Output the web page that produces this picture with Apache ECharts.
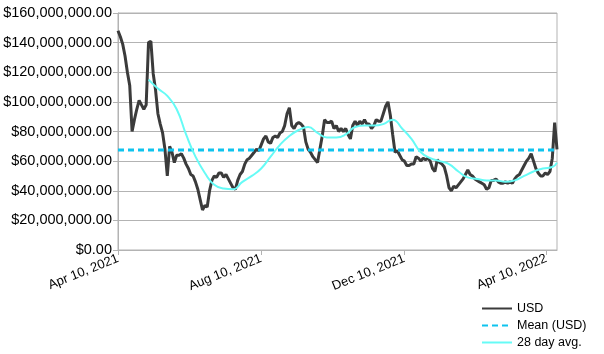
<!DOCTYPE html>
<html>
<head>
<meta charset="utf-8">
<script src="https://cdn.jsdelivr.net/npm/echarts@6/dist/echarts.min.js"></script>
<style>
  html, body { margin: 0; padding: 0; background: #fff; }
  #chart { width: 604px; height: 354px; }
</style>
</head>
<body>
<div id="chart"></div>
<script>
// day 0 = Apr 10, 2021; one USD value every 2 days
const startDate = Date.UTC(2021, 3, 10);
const usdStep = 2;
const usdValues = [
  148, 144, 139, 131, 120, 111, 80, 88, 95, 101,
  98, 95, 98, 140, 141, 119, 108, 92, 85, 79,
  68, 50, 70, 66, 59, 64, 64, 65, 62, 58,
  55, 51, 50, 46, 41, 34, 27, 30, 29, 40,
  47, 50, 49, 52, 52, 49, 51, 48, 45, 42,
  41, 47, 51, 53, 58, 61, 62, 64, 66, 68,
  67, 71, 75, 77, 73, 72, 76, 77, 76, 79,
  80, 84, 92, 96, 84, 82, 85, 86, 85, 83,
  73, 68, 66, 63, 61, 59, 68, 77, 88, 86,
  86, 87, 82, 84, 80, 82, 80, 82, 78, 75,
  84, 87, 84, 87, 85, 88, 85, 85, 82, 84,
  88, 87, 87, 92, 97, 100, 91, 78, 66, 67,
  64, 61, 60, 57, 57, 58, 58, 63, 62, 60,
  62, 61, 62, 60, 55, 53, 61, 59, 58, 56,
  50, 42, 40, 43, 42, 44, 46, 48, 51, 54,
  51, 50, 48, 47, 46, 45, 44, 41, 42, 47,
  47, 48, 46, 45, 45, 46, 45, 46, 45, 48,
  50, 51, 54, 57, 60, 62, 65, 60, 55, 52,
  50, 50, 52, 51, 53, 62, 86, 68
]; // millions

const avgDays = [26, 34, 42, 50, 58, 66, 74, 82, 90, 98, 106, 114, 122, 130, 138, 146,
  154, 162, 170, 178, 186, 194, 202, 210, 218, 226, 234, 242, 250, 258, 266, 274,
  282, 290, 298, 306, 314, 322, 330, 338, 346, 354, 362, 370, 374];
const avgValues = [115, 109, 104, 95, 78, 63, 52, 44, 41.5, 41, 46, 50, 55, 63, 71, 77,
  81, 83, 79, 76, 76, 78, 83, 84, 84, 85, 88, 82, 75, 66, 62, 60,
  58, 53, 49, 48, 47, 47, 46, 47, 50, 53, 55, 56, 59];

const meanValue = 67.5;
const lastDay = 374;
const xTickDays = [0, 122, 244, 365];

const M = 1e6;
const usdData = usdValues.map((v, i) => [i * usdStep, v * M]);
const avgData = avgDays.map((d, i) => [d, avgValues[i] * M]);
const meanData = [[0, meanValue * M], [lastDay, meanValue * M]];

const months = ['Jan', 'Feb', 'Mar', 'Apr', 'May', 'Jun', 'Jul', 'Aug', 'Sep', 'Oct', 'Nov', 'Dec'];
function dayLabel(d) {
  const dt = new Date(startDate + d * 86400000);
  return months[dt.getUTCMonth()] + ' ' + dt.getUTCDate() + ', ' + dt.getUTCFullYear();
}

const font = 'Liberation Sans';
const gridGray = '#b3b3b3';

const chart = echarts.init(document.getElementById('chart'));
chart.setOption({
  animation: false,
  textStyle: { fontFamily: font },
  grid: {
    left: 118, right: 47, top: 13, bottom: 104,
    show: true, borderColor: gridGray, borderWidth: 1
  },
  legend: {
    orient: 'vertical',
    left: 476, top: 297,
    itemWidth: 30, itemHeight: 14, itemGap: 4,
    itemStyle: { opacity: 0 },
    textStyle: { fontFamily: font, fontSize: 12.5, color: '#000' },
    data: ['USD', 'Mean (USD)', '28 day avg.']
  },
  xAxis: {
    type: 'value',
    min: 0, max: lastDay,
    axisLine: { lineStyle: { color: gridGray } },
    axisTick: { show: true, length: 5, customValues: xTickDays, lineStyle: { color: gridGray } },
    axisLabel: {
      customValues: xTickDays,
      rotate: 22,
      fontSize: 13,
      color: '#000',
      formatter: v => dayLabel(v)
    },
    splitLine: { show: false }
  },
  yAxis: {
    type: 'value',
    min: 0, max: 160 * M, interval: 20 * M,
    axisLine: { show: true, lineStyle: { color: gridGray } },
    axisTick: { show: true, length: 5, lineStyle: { color: gridGray } },
    axisLabel: {
      fontSize: 14.5,
      color: '#000',
      margin: 6,
      formatter: v => '$' + v.toLocaleString('en-US', { minimumFractionDigits: 2, maximumFractionDigits: 2 })
    },
    splitLine: { lineStyle: { color: gridGray } }
  },
  series: [
    {
      name: 'USD', type: 'line', data: usdData, symbol: 'none',
      lineStyle: { color: '#3b3b3b', width: 3 }, z: 2
    },
    {
      name: 'Mean (USD)', type: 'line', data: meanData, symbol: 'none',
      lineStyle: { color: '#0fc3ee', width: 3, type: [6, 4] }, z: 3
    },
    {
      name: '28 day avg.', type: 'line', data: avgData, symbol: 'none', smooth: true,
      lineStyle: { color: '#66fbf6', width: 2 }, z: 4
    }
  ]
});
</script>
</body>
</html>
